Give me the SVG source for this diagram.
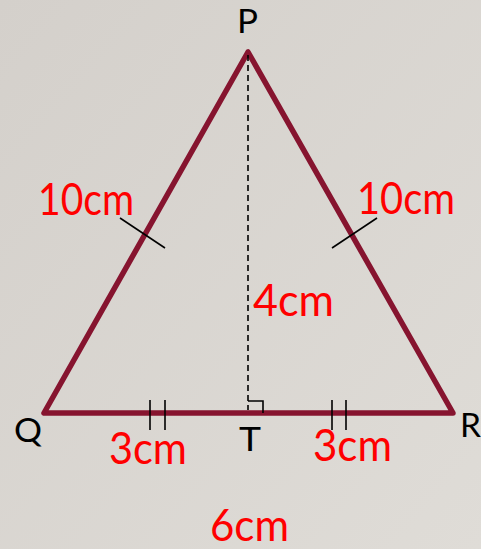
<svg xmlns="http://www.w3.org/2000/svg" width="481" height="549" viewBox="0 0 481 549">
<defs>
<linearGradient id="bg" x1="0" y1="0" x2="1" y2="1">
<stop offset="0" stop-color="#d4d0cb"/>
<stop offset="1" stop-color="#dfdcd7"/>
</linearGradient>
<style>
.side{fill:none;stroke:#86142f;stroke-width:5.5;stroke-linejoin:round;stroke-linecap:round}
.thin{fill:none;stroke:#000;stroke-width:1.6}
.dash{fill:none;stroke:#000;stroke-width:1.6;stroke-dasharray:6,4}
.lbl{font-family:Lato,"Open Sans","Liberation Sans",sans-serif;fill:#000;font-size:32px}
.len{font-family:Lato,"Open Sans","Liberation Sans",sans-serif;fill:#ff0000;font-size:44px}
</style>
</defs>
<rect width="481" height="549" fill="url(#bg)"/>
<g id="connectors">
<polygon class="side" points="248,52 44,413 453,413"/>
<line class="dash" x1="248" y1="55" x2="248" y2="410"/>
<polyline class="thin" points="248,401 263,401 263,413"/>
<line class="thin" x1="120" y1="218" x2="165" y2="248"/>
<line class="thin" x1="377" y1="218" x2="332" y2="248"/>
<line class="thin" x1="150" y1="400" x2="150" y2="430"/>
<line class="thin" x1="165" y1="400" x2="165" y2="430"/>
<line class="thin" x1="332" y1="400" x2="332" y2="430"/>
<line class="thin" x1="346" y1="400" x2="346" y2="430"/>
</g>
<g id="P"><text class="lbl" x="237" y="33" textLength="21" lengthAdjust="spacingAndGlyphs">P</text></g>
<g id="Q"><text class="lbl" x="14" y="442" textLength="28" lengthAdjust="spacingAndGlyphs">Q</text></g>
<g id="R"><text class="lbl" x="460" y="437" textLength="21" lengthAdjust="spacingAndGlyphs">R</text></g>
<g id="T"><text class="lbl" x="239" y="451" textLength="22" lengthAdjust="spacingAndGlyphs">T</text></g>
<g id="label-PQ"><text class="len" x="38" y="215" textLength="96" lengthAdjust="spacingAndGlyphs">10cm</text></g>
<g id="label-PR"><text class="len" x="357" y="214" textLength="98" lengthAdjust="spacingAndGlyphs">10cm</text></g>
<g id="label-PT"><text class="len" x="253" y="316" textLength="81" lengthAdjust="spacingAndGlyphs">4cm</text></g>
<g id="label-QT"><text class="len" x="109" y="464" textLength="78" lengthAdjust="spacingAndGlyphs">3cm</text></g>
<g id="label-TR"><text class="len" x="313" y="461" textLength="79" lengthAdjust="spacingAndGlyphs">3cm</text></g>
<g id="label-QR"><text class="len" x="210" y="541" textLength="79" lengthAdjust="spacingAndGlyphs">6cm</text></g>
</svg>
